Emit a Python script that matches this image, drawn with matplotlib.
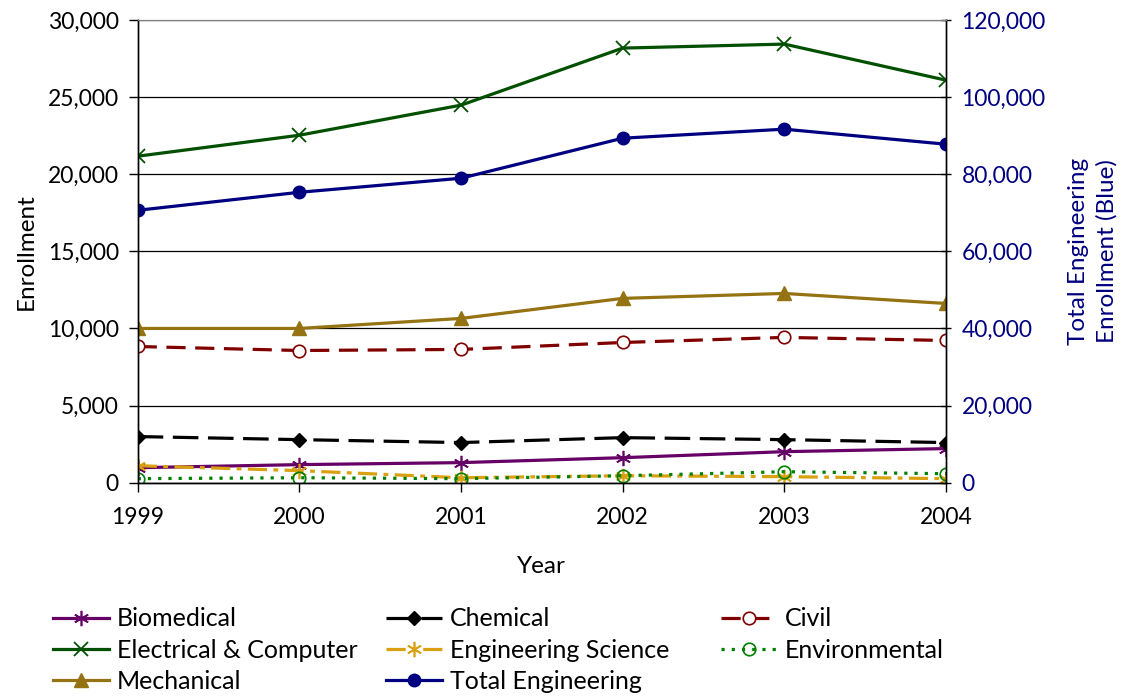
import matplotlib
matplotlib.use('Agg')
import matplotlib.pyplot as plt
from matplotlib.ticker import FuncFormatter

plt.rcParams['font.family'] = ['Lato', 'DejaVu Sans']

years = [1999, 2000, 2001, 2002, 2003, 2004]

biomedical = [970, 1170, 1300, 1620, 2010, 2210]
chemical = [2990, 2790, 2600, 2920, 2790, 2600]
civil = [8830, 8570, 8640, 9090, 9420, 9220]
electrical = [21170, 22530, 24480, 28180, 28440, 26100]
eng_science = [1100, 780, 320, 450, 390, 260]
environmental = [260, 320, 260, 450, 710, 580]
mechanical = [10000, 10000, 10650, 11950, 12270, 11620]
total = [70650, 75320, 78960, 89350, 91690, 87790]

comma = FuncFormatter(lambda v, p: '{:,.0f}'.format(v))
ast = (6, 2, 0)

fig = plt.figure(figsize=(11.24, 6.98), dpi=100)
ax = fig.add_axes([0.1225, 0.3085, 0.7191, 0.6628])
ax2 = ax.twinx()

lw = 2.3
h_bio, = ax.plot(years, biomedical, color='#660066', lw=lw, marker=ast, ms=11, mew=1.2)
h_chem, = ax.plot(years, chemical, color='black', lw=lw, ls=(0, (8, 3)), marker='D', ms=7)
h_civ, = ax.plot(years, civil, color='#800000', lw=lw, ls=(0, (6, 3)), marker='o', ms=9, mfc='white', mew=1.2)
h_ece, = ax.plot(years, electrical, color='#005000', lw=lw, marker='x', ms=10, mew=1.3)
h_es, = ax.plot(years, eng_science, color='#D9A00F', lw=lw, ls=(0, (6, 2, 1.5, 2)), marker=ast, ms=11, mew=1.2)
h_env, = ax.plot(years, environmental, color='#008000', lw=lw, ls=(0, (1, 2.2)), marker='o', ms=9, mfc='none', mew=1.2)
h_mech, = ax.plot(years, mechanical, color='#957212', lw=lw, marker='^', ms=10)
h_tot, = ax2.plot(years, total, color='#000080', lw=lw, marker='o', ms=9)

ax.set_xlim(1999, 2004)
ax.set_ylim(0, 30000)
ax2.set_ylim(0, 120000)
ax.set_yticks(range(0, 30001, 5000))
ax2.set_yticks(range(0, 120001, 20000))
ax.yaxis.set_major_formatter(comma)
ax2.yaxis.set_major_formatter(comma)
ax.grid(axis='y', color='black', lw=0.9)
ax.set_axisbelow(True)

for a in (ax, ax2):
    a.spines['top'].set_color('#808080')
    for s in ('left', 'right', 'bottom'):
        a.spines[s].set_linewidth(1.0)
ax.tick_params(labelsize=16.5, length=6.5, width=1)
ax.tick_params(axis='x', pad=11)
ax.tick_params(axis='y', pad=7)
ax2.tick_params(axis='y', labelsize=16.5, length=6.5, width=1, direction='inout',
                color='black', labelcolor='#000080', pad=8)

ax.set_xlabel('Year', fontsize=17.5, labelpad=20)
ax.set_ylabel('Enrollment', fontsize=17.5, labelpad=8)
ax2.set_ylabel('Total Engineering\nEnrollment (Blue)', fontsize=17.5, color='#000080',
               labelpad=16, linespacing=1.4)

# one legend per column so the columns line up at fixed positions
columns = [
    ([h_bio, h_ece, h_mech], ['Biomedical', 'Electrical & Computer', 'Mechanical'], 0.047),
    ([h_chem, h_es, h_tot], ['Chemical', 'Engineering Science', 'Total Engineering'], 0.3435),
    ([h_civ, h_env], ['Civil', 'Environmental'], 0.6415),
]
for hs, ls, x0 in columns:
    fig.legend(hs, ls, loc='upper left', bbox_to_anchor=(x0, 0.130),
               bbox_transform=fig.transFigure, frameon=False, fontsize=18,
               handlelength=2.25, handletextpad=0.3, labelspacing=0.33,
               borderaxespad=0, borderpad=0)

fig.savefig('out.png', dpi=100)
